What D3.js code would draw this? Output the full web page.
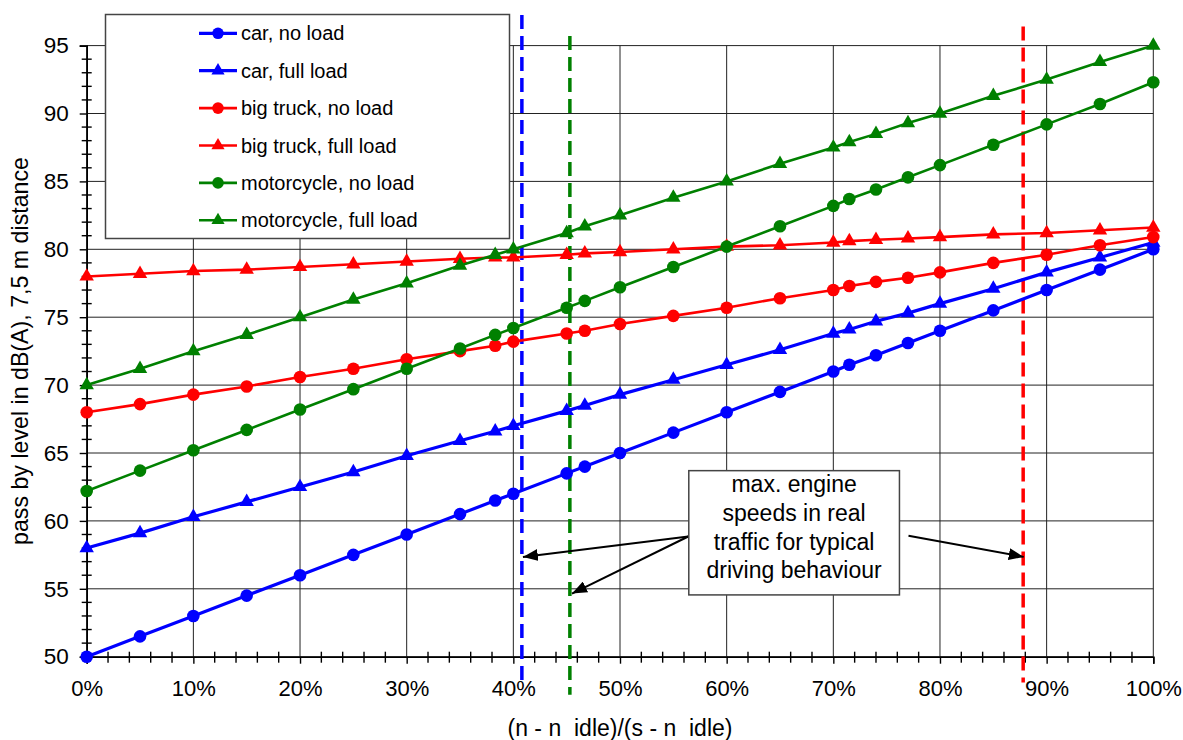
<!DOCTYPE html>
<html>
<head>
<meta charset="utf-8">
<script src="https://cdn.jsdelivr.net/npm/d3@7"></script>
<style>
  body { margin: 0; background: #fff; }
  svg { display: block; font-family: "Liberation Sans", Arial, sans-serif; }
  .pre { white-space: pre; }
</style>
</head>
<body>
<svg id="chart"></svg>
<script>
(function (d3) {
    'use strict';

    // engine speed share, (n - n idle)/(s - n idle) in %
    var speedPct = [0, 5, 10, 15, 20, 25, 30, 35, 38.3, 40, 45, 46.7, 50, 55, 60, 65, 70, 71.5, 74, 77, 80, 85, 90, 95, 100];

    var carNoLoad = [50, 51.5, 53, 54.5, 56, 57.5, 59, 60.5, 61.5, 62, 63.5, 64, 65, 66.5, 68, 69.5, 71, 71.5, 72.2, 73.1, 74, 75.5, 77, 78.5, 80];
    var carFullLoad = [58, 59.1, 60.3, 61.4, 62.5, 63.6, 64.8, 65.9, 66.6, 67, 68.1, 68.5, 69.3, 70.4, 71.5, 72.6, 73.8, 74.1, 74.7, 75.3, 76, 77.1, 78.3, 79.4, 80.5];
    var truckNoLoad = [68, 68.6, 69.3, 69.9, 70.6, 71.2, 71.9, 72.5, 72.9, 73.2, 73.8, 74, 74.5, 75.1, 75.7, 76.4, 77, 77.3, 77.6, 77.9, 78.3, 79, 79.6, 80.3, 80.9];
    var truckFullLoad = [78, 78.2, 78.4, 78.5, 78.7, 78.9, 79.1, 79.3, 79.4, 79.4, 79.6, 79.7, 79.8, 80, 80.2, 80.3, 80.5, 80.6, 80.7, 80.8, 80.9, 81.1, 81.2, 81.4, 81.6];
    var motoNoLoad = [62.2, 63.7, 65.2, 66.7, 68.2, 69.7, 71.2, 72.7, 73.7, 74.2, 75.7, 76.2, 77.2, 78.7, 80.2, 81.7, 83.2, 83.7, 84.4, 85.3, 86.2, 87.7, 89.2, 90.7, 92.3];
    var motoFullLoad = [70, 71.2, 72.5, 73.7, 75, 76.3, 77.5, 78.8, 79.6, 80, 81.2, 81.7, 82.5, 83.8, 85, 86.3, 87.5, 87.9, 88.5, 89.3, 90, 91.3, 92.5, 93.8, 95];

    var seriesNames = ['car, no load', 'car, full load', 'big truck, no load', 'big truck, full load', 'motorcycle, no load', 'motorcycle, full load'];
    var seriesValues = [carNoLoad, carFullLoad, truckNoLoad, truckFullLoad, motoNoLoad, motoFullLoad];

    var xTicks = [0, 10, 20, 30, 40, 50, 60, 70, 80, 90, 100];
    var yTicks = [50, 55, 60, 65, 70, 75, 80, 85, 90, 95];

    // max engine speeds in real traffic (dashed markers), % and dB span
    var maxSpeedPct = [40.8, 45.3, 87.8];
    var maxSpeedTop = [97.25, 95.7, 96.4];
    var maxSpeedBottom = [47.9, 47.2, 48.1];

    var noteLines = ['max. engine', 'speeds in real', 'traffic for typical', 'driving behaviour'];
    // arrows: [from %, from dB, to %, to dB]
    var noteArrows = [
        [56.4, 58.85, 40.9, 57.35],
        [56.4, 58.85, 45.5, 54.65],
        [77.05, 58.9, 87.85, 57.35]
    ];

    var width = 1183,
        height = 740;

    var colors = { car: '#0000ff', truck: '#ff0000', moto: '#008000' };
    var seriesColor = [colors.car, colors.car, colors.truck, colors.truck, colors.moto, colors.moto];
    var seriesShape = ['circle', 'triangle', 'circle', 'triangle', 'circle', 'triangle'];
    var seriesWidth = [3.2, 3.2, 2.6, 2.6, 2.6, 2.6];
    var maxSpeedColor = [colors.car, colors.moto, colors.truck];
    var fontFamily = '"Liberation Sans", Arial, sans-serif';

    var x = d3.scaleLinear().domain([0, 100]).range([86.7, 1153.3]),
        y = d3.scaleLinear().domain([50, 95]).range([656.7, 45.6]);

    var svg = d3.select('#chart')
        .attr('width', width)
        .attr('height', height);

    var defs = svg.append('defs');
    defs.append('marker')
        .attr('id', 'arrow')
        .attr('markerUnits', 'userSpaceOnUse')
        .attr('markerWidth', 16)
        .attr('markerHeight', 12)
        .attr('refX', 15)
        .attr('refY', 6)
        .attr('orient', 'auto')
        .append('path')
        .attr('d', 'M0,0 L15,6 L0,12 Z')
        .attr('fill', '#000');

    // grid
    var grid = svg.append('g').attr('class', 'grid');
    grid.selectAll('.vgrid')
        .data(xTicks)
        .enter().append('line')
        .attr('x1', function (d) { return x(d); })
        .attr('x2', function (d) { return x(d); })
        .attr('y1', y(50))
        .attr('y2', y(95))
        .attr('stroke', '#222')
        .attr('stroke-width', 1);
    grid.selectAll('.hgrid')
        .data(yTicks)
        .enter().append('line')
        .attr('x1', x(0))
        .attr('x2', x(100))
        .attr('y1', function (d) { return y(d); })
        .attr('y2', function (d) { return y(d); })
        .attr('stroke', '#222')
        .attr('stroke-width', 1);

    // axes
    svg.append('g')
        .attr('class', 'axis axis--y')
        .attr('transform', 'translate(' + x(0) + ',0)')
        .call(d3.axisLeft(y).tickValues(yTicks).tickSize(7).tickPadding(11))
        .call(function (g) {
            g.select('.domain').attr('stroke-width', 1.6);
            g.selectAll('.tick line').attr('stroke-width', 1.4);
            g.selectAll('text').attr('font-size', 22.5).attr('fill', '#000')
                .attr('font-family', fontFamily);
        });

    svg.append('g')
        .attr('class', 'axis axis--x')
        .attr('transform', 'translate(0,' + y(50) + ')')
        .call(d3.axisBottom(x).tickValues(xTicks).tickSize(7).tickPadding(17)
            .tickFormat(function (d) { return d + '%'; }))
        .call(function (g) {
            g.select('.domain').attr('stroke-width', 1.6);
            g.selectAll('.tick line').attr('stroke-width', 1.4);
            g.selectAll('text').attr('font-size', 22).attr('fill', '#000')
                .attr('font-family', fontFamily);
        });

    // minor ticks crossing the axes
    svg.append('g').selectAll('line')
        .data(d3.range(51, 95, 1).filter(function (d) { return d % 5 !== 0; }))
        .enter().append('line')
        .attr('x1', x(0) - 5).attr('x2', x(0) + 5)
        .attr('y1', function (d) { return y(d); })
        .attr('y2', function (d) { return y(d); })
        .attr('stroke', '#000').attr('stroke-width', 1.4);
    svg.append('g').selectAll('line')
        .data(d3.range(2, 100, 2).filter(function (d) { return d % 10 !== 0; }))
        .enter().append('line')
        .attr('x1', function (d) { return x(d); })
        .attr('x2', function (d) { return x(d); })
        .attr('y1', y(50) - 5).attr('y2', y(50) + 6)
        .attr('stroke', '#000').attr('stroke-width', 1.4);

    // axis titles
    svg.append('text')
        .attr('class', 'pre')
        .attr('x', 620)
        .attr('y', 736)
        .attr('text-anchor', 'middle')
        .attr('font-size', 23)
        .text('(n - n  idle)/(s - n  idle)');

    svg.append('text')
        .attr('transform', 'translate(28,351) rotate(-90)')
        .attr('text-anchor', 'middle')
        .attr('font-size', 23.2)
        .text('pass by level in dB(A), 7,5 m distance');

    // dashed max speed lines
    svg.append('g').selectAll('line')
        .data(maxSpeedPct)
        .enter().append('line')
        .attr('x1', function (d) { return x(d); })
        .attr('x2', function (d) { return x(d); })
        .attr('y1', function (d, i) { return y(maxSpeedTop[i]); })
        .attr('y2', function (d, i) { return y(maxSpeedBottom[i]); })
        .attr('stroke', function (d, i) { return maxSpeedColor[i]; })
        .attr('stroke-width', 3.5)
        .attr('stroke-dasharray', '14,7');

    // series
    var line = d3.line()
        .x(function (d, i) { return x(speedPct[i]); })
        .y(function (d) { return y(d); });
    var triangle = d3.symbol().type(d3.symbolTriangle).size(90);
    var legendTriangle = d3.symbol().type(d3.symbolTriangle).size(75);

    seriesValues.forEach(function (values, s) {
        var g = svg.append('g').attr('class', 'series');
        g.append('path')
            .datum(values)
            .attr('d', line)
            .attr('fill', 'none')
            .attr('stroke', seriesColor[s])
            .attr('stroke-width', seriesWidth[s]);
        if (seriesShape[s] === 'circle') {
            g.selectAll('circle')
                .data(values)
                .enter().append('circle')
                .attr('cx', function (d, i) { return x(speedPct[i]); })
                .attr('cy', function (d) { return y(d); })
                .attr('r', 6.3)
                .attr('fill', seriesColor[s]);
        } else {
            g.selectAll('path.mark')
                .data(values)
                .enter().append('path')
                .attr('class', 'mark')
                .attr('d', triangle)
                .attr('transform', function (d, i) { return 'translate(' + x(speedPct[i]) + ',' + y(d) + ')'; })
                .attr('fill', seriesColor[s]);
        }
    });

    // legend
    var legend = svg.append('g').attr('class', 'legend');
    legend.append('rect')
        .attr('x', 105.5).attr('y', 14.5)
        .attr('width', 404).attr('height', 224)
        .attr('fill', '#fff')
        .attr('stroke', '#444')
        .attr('stroke-width', 1.5);

    var item = legend.selectAll('.item')
        .data(seriesNames)
        .enter().append('g')
        .attr('class', 'item')
        .attr('transform', function (d, i) { return 'translate(0,' + (33.3 + i * 37.4) + ')'; });
    item.append('line')
        .attr('x1', 199).attr('x2', 237)
        .attr('stroke', function (d, i) { return seriesColor[i]; })
        .attr('stroke-width', function (d, i) { return seriesWidth[i]; });
    item.each(function (d, i) {
        var g = d3.select(this);
        if (seriesShape[i] === 'circle') {
            g.append('circle').attr('cx', 218).attr('r', 5.8).attr('fill', seriesColor[i]);
        } else {
            g.append('path').attr('d', legendTriangle)
                .attr('transform', 'translate(218,0)')
                .attr('fill', seriesColor[i]);
        }
    });
    item.append('text')
        .attr('x', 241)
        .attr('dy', '0.35em')
        .attr('font-size', 20)
        .text(function (d) { return d; });

    // annotation
    svg.append('g').selectAll('line')
        .data(noteArrows)
        .enter().append('line')
        .attr('x1', function (d) { return x(d[0]); })
        .attr('y1', function (d) { return y(d[1]); })
        .attr('x2', function (d) { return x(d[2]); })
        .attr('y2', function (d) { return y(d[3]); })
        .attr('stroke', '#000')
        .attr('stroke-width', 2)
        .attr('marker-end', 'url(#arrow)');

    var note = svg.append('g').attr('class', 'note');
    note.append('rect')
        .attr('x', x(56.45)).attr('y', y(63.7))
        .attr('width', x(76.2) - x(56.45))
        .attr('height', y(54.55) - y(63.7))
        .attr('fill', '#fff')
        .attr('stroke', '#444')
        .attr('stroke-width', 1.5);
    note.selectAll('text')
        .data(noteLines)
        .enter().append('text')
        .attr('x', (x(56.45) + x(76.2)) / 2)
        .attr('y', function (d, i) { return 492.3 + i * 28.7; })
        .attr('text-anchor', 'middle')
        .attr('font-size', 23)
        .text(function (d) { return d; });

})(window.d3);
</script>
</body>
</html>
